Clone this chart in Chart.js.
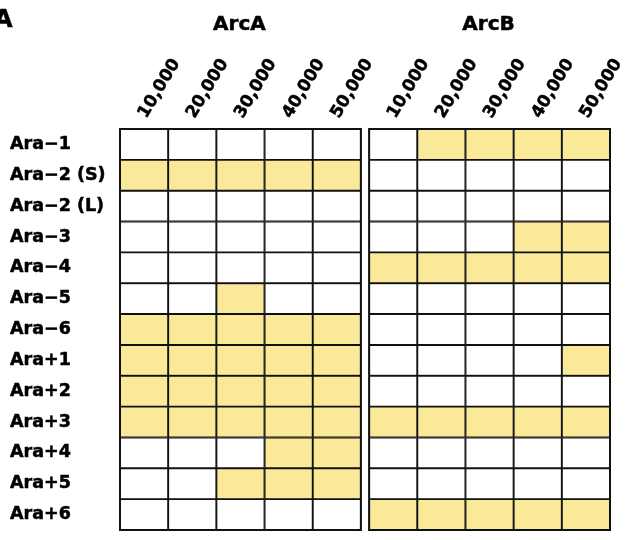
<!DOCTYPE html>
<html>
<head>
<meta charset="utf-8">
<title>ArcA / ArcB</title>
<script src="https://cdn.jsdelivr.net/npm/chart.js@4/dist/chart.umd.min.js"></script>
<style>
  html, body { margin: 0; padding: 0; background: #ffffff; }
  #wrap { position: relative; width: 629px; height: 540px; }
</style>
</head>
<body>
<div id="wrap"><canvas id="grid"></canvas></div>
<script>
// Populations (rows), sampled generations (columns) and the two genes (panels)
const populations = ['Ara\u22121', 'Ara\u22122 (S)', 'Ara\u22122 (L)', 'Ara\u22123', 'Ara\u22124', 'Ara\u22125',
                     'Ara\u22126', 'Ara+1', 'Ara+2', 'Ara+3', 'Ara+4', 'Ara+5', 'Ara+6'];
const generations = ['10,000', '20,000', '30,000', '40,000', '50,000'];
const genes = ['ArcA', 'ArcB'];

// 1 = mutation present in that population at that generation
const arcA = [
  [0, 0, 0, 0, 0],
  [1, 1, 1, 1, 1],
  [0, 0, 0, 0, 0],
  [0, 0, 0, 0, 0],
  [0, 0, 0, 0, 0],
  [0, 0, 1, 0, 0],
  [1, 1, 1, 1, 1],
  [1, 1, 1, 1, 1],
  [1, 1, 1, 1, 1],
  [1, 1, 1, 1, 1],
  [0, 0, 0, 1, 1],
  [0, 0, 1, 1, 1],
  [0, 0, 0, 0, 0]
];
const arcB = [
  [0, 1, 1, 1, 1],
  [0, 0, 0, 0, 0],
  [0, 0, 0, 0, 0],
  [0, 0, 0, 1, 1],
  [1, 1, 1, 1, 1],
  [0, 0, 0, 0, 0],
  [0, 0, 0, 0, 0],
  [0, 0, 0, 0, 1],
  [0, 0, 0, 0, 0],
  [1, 1, 1, 1, 1],
  [0, 0, 0, 0, 0],
  [0, 0, 0, 0, 0],
  [1, 1, 1, 1, 1]
];

const FILL_ON = '#FBE99A';
const FILL_OFF = '#FFFFFF';
const LINE = '#111111';
const FONT = 'DejaVu Sans';
const TEXT_STROKE = 0.5;                // slight outline to thicken the bold lettering
const PANEL_GAP = 0.17;                 // space between the two panels, in column units
const LABEL_NUDGE = 0.33;               // rotated labels start a little right of the cell centre
const nCols = generations.length;
const panelStart = [0, nCols + PANEL_GAP];
const panels = [arcA, arcB];

// One dataset per (gene, generation) column; each row is a floating bar spanning that column
const datasets = [];
panels.forEach((matrix, g) => {
  generations.forEach((gen, c) => {
    const x0 = panelStart[g] + c;
    datasets.push({
      label: genes[g] + ' ' + gen,
      data: populations.map(() => [x0, x0 + 1]),
      backgroundColor: populations.map((_, r) => matrix[r][c] ? FILL_ON : FILL_OFF),
      borderColor: LINE,
      borderWidth: 1.3,
      borderSkipped: false,
      grouped: false,
      barPercentage: 1,
      categoryPercentage: 1
    });
  });
});

// Column tick positions and their labels
const tickValues = [];
const tickText = {};
panelStart.forEach(p => generations.forEach((gen, c) => {
  const v = +(p + c + 0.5 + LABEL_NUDGE).toFixed(3);
  tickValues.push(v);
  tickText[v] = gen;
}));

// Panel outlines and the gene headings above each panel
const panelDecor = {
  id: 'panelDecor',
  afterDatasetsDraw(chart) {
    const { ctx, chartArea, scales: { x } } = chart;
    ctx.save();
    ctx.strokeStyle = LINE;
    ctx.lineWidth = 2;
    panelStart.forEach(p => {
      const l = x.getPixelForValue(p);
      const r = x.getPixelForValue(p + nCols);
      ctx.strokeRect(l, chartArea.top, r - l, chartArea.bottom - chartArea.top);
    });
    ctx.fillStyle = '#000';
    ctx.strokeStyle = '#000';
    ctx.lineWidth = TEXT_STROKE;
    ctx.textAlign = 'center';
    ctx.textBaseline = 'middle';
    ctx.font = 'bold 20px "' + FONT + '"';
    genes.forEach((name, g) => {
      const cx = x.getPixelForValue(panelStart[g] + nCols / 2) - 1;
      ctx.fillText(name, cx, 25);
      ctx.strokeText(name, cx, 25);
    });
    ctx.textAlign = 'left';
    ctx.font = 'bold 24px "' + FONT + '"';
    ctx.fillText('A', -6, 21);
    ctx.strokeText('A', -6, 21);
    ctx.restore();
  }
};

new Chart(document.getElementById('grid'), {
  type: 'bar',
  data: { labels: populations, datasets },
  options: {
    indexAxis: 'y',
    responsive: true,
    maintainAspectRatio: false,
    animation: false,
    layout: { padding: { left: 10, right: 19, top: 0, bottom: 10 } },
    plugins: { legend: { display: false }, tooltip: { enabled: false } },
    scales: {
      x: {
        type: 'linear',
        position: 'top',
        min: 0,
        max: panelStart[1] + nCols,
        grid: { display: false, drawTicks: false },
        border: { display: false },
        afterBuildTicks(scale) { scale.ticks = tickValues.map(v => ({ value: v })); },
        afterFit(scale) { scale.height = 129; scale.paddingLeft = 0; scale.paddingRight = 0; },
        ticks: {
          autoSkip: false,
          minRotation: 59,
          maxRotation: 59,
          padding: 7,
          color: '#000',
          textStrokeColor: '#000',
          textStrokeWidth: TEXT_STROKE,
          font: { family: FONT, size: 17, weight: 'bold' },
          callback: v => tickText[+(+v).toFixed(3)] || ''
        }
      },
      y: {
        type: 'category',
        grid: { display: false, drawTicks: false },
        border: { display: false },
        afterFit(scale) { scale.width = 110; scale.paddingTop = 0; scale.paddingBottom = 0; },
        ticks: {
          crossAlign: 'far',
          color: '#000',
          textStrokeColor: '#000',
          textStrokeWidth: TEXT_STROKE,
          font: { family: FONT, size: 17.5, weight: 'bold' }
        }
      }
    }
  },
  plugins: [panelDecor]
});
</script>
</body>
</html>
